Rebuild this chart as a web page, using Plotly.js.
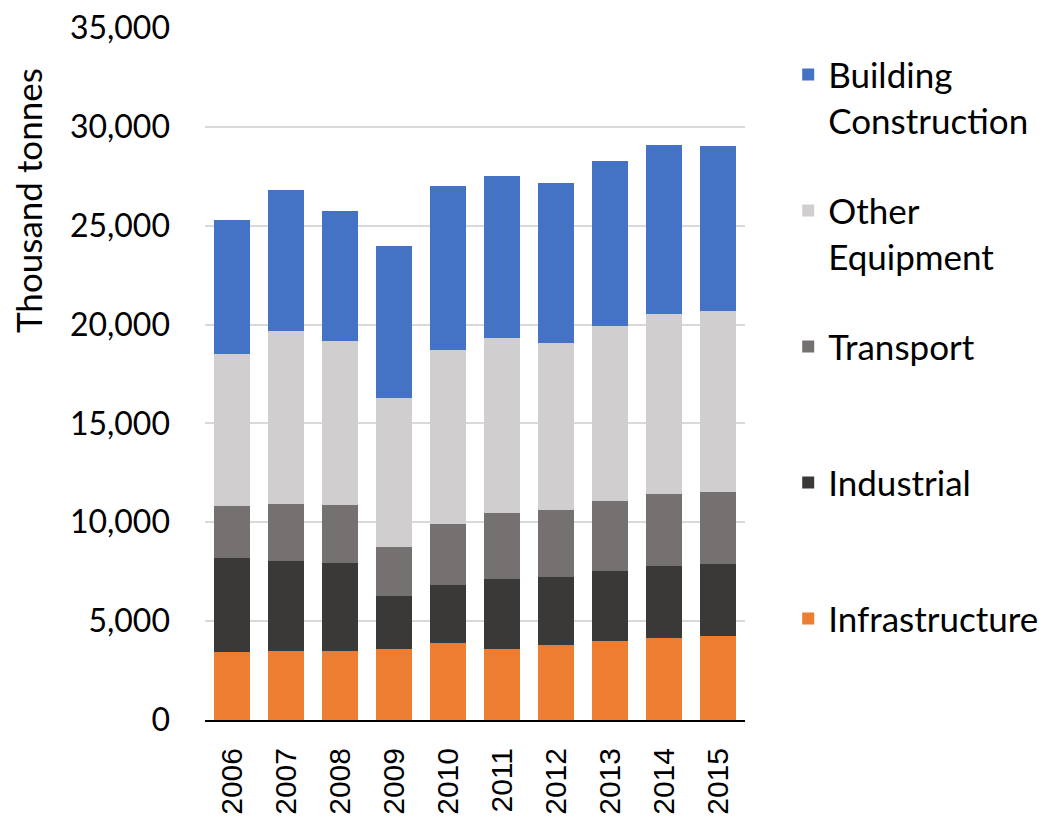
<!DOCTYPE html>
<html>
<head>
<meta charset="utf-8">
<script src="https://cdn.plot.ly/plotly-3.0.1.min.js"></script>
<style>html,body{margin:0;padding:0;background:#fff;}#chart{width:1039px;height:818px;}</style>
</head>
<body>
<div id="chart"></div>
<script>
const years = ['2006','2007','2008','2009','2010','2011','2012','2013','2014','2015'];
const infrastructure = [3440, 3510, 3470, 3590, 3890, 3610, 3790, 4000, 4130, 4250];
const industrial     = [4740, 4550, 4470, 2700, 2940, 3520, 3460, 3550, 3680, 3660];
const transport      = [2630, 2870, 2920, 2440, 3100, 3320, 3390, 3510, 3600, 3640];
const otherEquipment = [7690, 8730, 8310, 7560, 8800, 8850, 8440, 8870, 9110, 9140];
const building       = [6790, 7130, 6570, 7670, 8260, 8230, 8060, 8340, 8540, 8360];
const yTicks = [0, 5000, 10000, 15000, 20000, 25000, 30000, 35000];

const series = [
  {name: 'Infrastructure<br> ', y: infrastructure, color: '#ED7D31'},
  {name: 'Industrial<br> ', y: industrial, color: '#3B3838'},
  {name: 'Transport<br> ', y: transport, color: '#767171'},
  {name: 'Other<br>Equipment', y: otherEquipment, color: '#D0CECE'},
  {name: 'Building<br>Construction', y: building, color: '#4472C4'}
];

const data = series.map((s, i) => ({
  type: 'bar',
  x: years,
  y: s.y,
  name: s.name,
  legendgroup: 'g' + i,
  legendrank: 1000 - i,
  marker: {color: s.color, line: {width: 0}},
  hoverinfo: 'x+y+name'
}));

const layout = {
  width: 1039,
  height: 818,
  margin: {l: 205, r: 294, t: 28, b: 98, autoexpand: false},
  paper_bgcolor: '#ffffff',
  plot_bgcolor: '#ffffff',
  barmode: 'stack',
  bargap: 0.35,
  font: {family: 'Lato, "Open Sans", sans-serif', color: '#000000'},
  xaxis: {
    type: 'category',
    tickangle: -90,
    tickfont: {family: '"Liberation Sans", Arial, sans-serif', size: 30, color: '#000'},
    showline: true,
    linecolor: '#000000',
    linewidth: 2,
    ticks: '',
    showgrid: false,
    ticklabelstandoff: 14,
    automargin: false
  },
  yaxis: {
    range: [0, 35000],
    tickvals: yTicks,
    tickformat: ',',
    tickfont: {family: 'Lato, sans-serif', size: 32, color: '#000'},
    showgrid: true,
    gridcolor: '#d9d9d9',
    gridwidth: 2,
    zeroline: false,
    showline: false,
    ticks: '',
    ticklabelstandoff: 34,
    automargin: false
  },
  legend: {
    x: 1.08,
    xanchor: 'left',
    y: 0.975,
    yanchor: 'top',
    traceorder: 'grouped',
    tracegroupgap: 42,
    valign: 'top',
    font: {family: 'Lato, sans-serif', size: 35, color: '#000'},
    itemwidth: 30
  },
  annotations: [{
    text: 'Thousand tonnes',
    xref: 'paper', yref: 'paper',
    x: (28 - 205) / 540, y: (720 - 201) / 692,
    xanchor: 'center', yanchor: 'middle',
    textangle: -90,
    showarrow: false,
    font: {family: 'Lato, sans-serif', size: 35, color: '#000'}
  }]
};

Plotly.newPlot('chart', data, layout, {displayModeBar: false, staticPlot: true});
</script>
</body>
</html>
